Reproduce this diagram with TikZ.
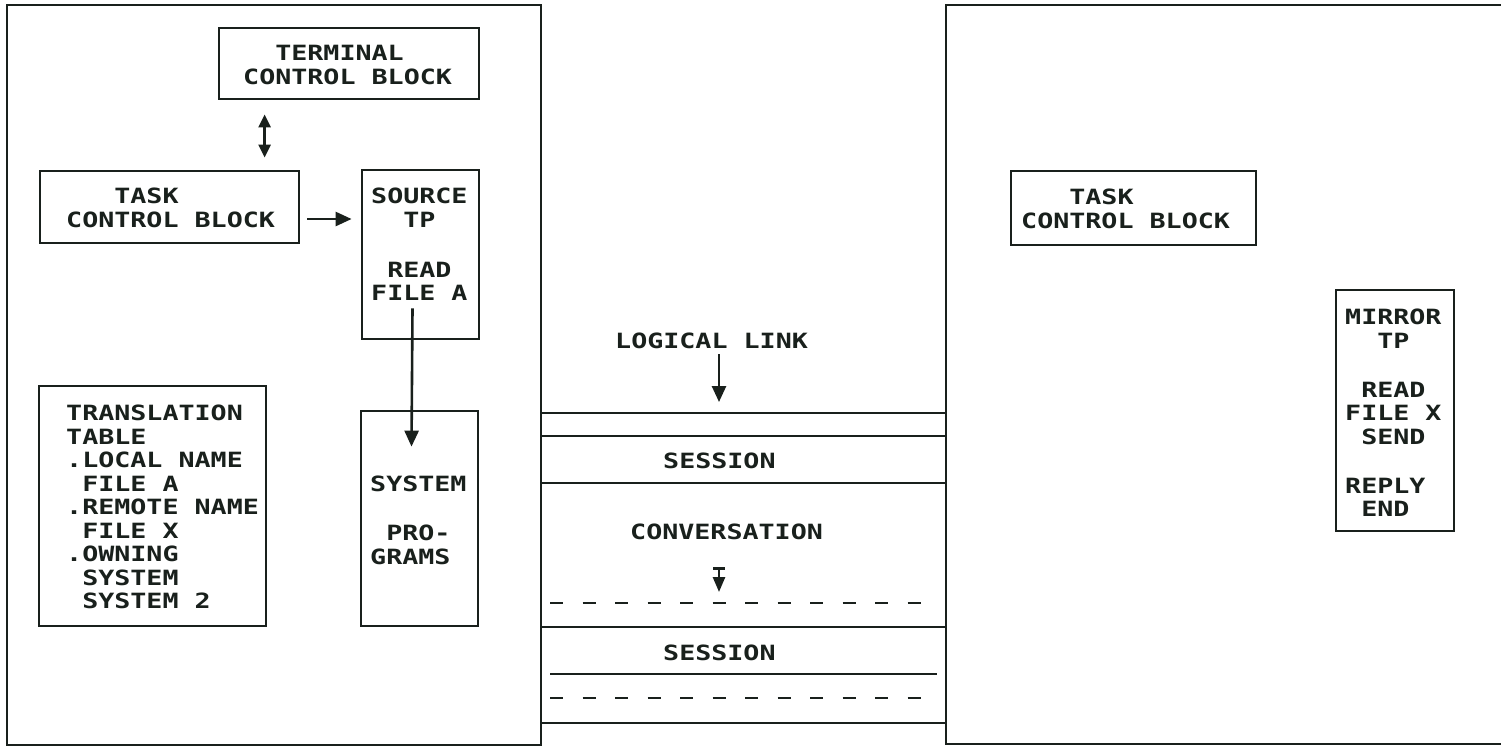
\documentclass[tikz,border=0pt]{standalone}
\usepackage{fontspec}
\newfontfamily\plotfont[FakeStretch=1.27]{DejaVu Sans Mono}
\usetikzlibrary{arrows.meta,calc}
\definecolor{ink}{RGB}{25,32,28}
\newcommand\chsp{\hphantom{X}}
\begin{document}
\begin{tikzpicture}[x=1pt,y=-1pt,
  blk/.style={draw=ink,line width=2.8pt,inner sep=0pt,rectangle},
  frame/.style={draw=ink,line width=2.8pt},
  txt/.style={inner sep=0pt,anchor=north west,align=left,text=ink,
    font={\plotfont\bfseries\fontsize{21pt}{23.5pt}\selectfont}},
  hline/.style={draw=ink,line width=2.8pt},
  dline/.style={draw=ink,line width=2.8pt,dash pattern=on 13pt off 19.5pt},
  arr/.style={draw=ink,line width=2.6pt,-{Triangle[length=16pt,width=14pt]}},
  dbl/.style={draw=ink,line width=2.6pt,{Triangle[length=13pt,width=12pt]}-{Triangle[length=13pt,width=12pt]}},
  tarr/.style={draw=ink,line width=2.6pt,{Bar[width=12pt]}-{Triangle[length=15pt,width=12pt]}}
]
\useasboundingbox (0,0) rectangle (1501,748);
\fill[white] (0,0) rectangle (1501,748);

% left system frame
\node[frame,inner sep=0pt,minimum width=534pt,minimum height=740pt] (lsys) at (274,375) {};
% right system frame (open at right)
\draw[frame] (1506,5) -- (946,5) coordinate (rtop) -- (946,744) coordinate (rbot) -- (1506,744);

% left side boxes
\node[blk,minimum width=260pt,minimum height=71pt] (term) at (349,63.5) {};
\node[blk,minimum width=259pt,minimum height=72pt] (tcbl) at (169.5,207) {};
\node[blk,minimum width=117pt,minimum height=169pt] (src) at (420.5,254.5) {};
\node[blk,minimum width=117pt,minimum height=215pt] (sys) at (419.5,518.5) {};
\node[blk,minimum width=227pt,minimum height=240pt] (trans) at (152.5,506) {};

% right side boxes
\node[blk,minimum width=245pt,minimum height=74pt] (tcbr) at (1133.5,208) {};
\node[blk,minimum width=118pt,minimum height=241pt] (mir) at (1395,410.5) {};

% texts
\node[txt] (termT) at (243,45) {\chsp\chsp TERMINAL\\CONTROL BLOCK};
\node[txt] (tcblT) at (66,188) {\chsp\chsp\chsp TASK\\CONTROL BLOCK};
\node[txt] (tcbrT) at (1021,189) {\chsp\chsp\chsp TASK\\CONTROL BLOCK};
\node[txt] (srcT) at (371,188) {SOURCE\\\chsp\chsp TP\\[26.5pt]\chsp READ\\FILE A};
\node[txt] (sysT) at (370,476) {SYSTEM\\[25.5pt]\chsp PRO-\\GRAMS};
\node[txt] (transT) at (66,405) {TRANSLATION\\TABLE\\.LOCAL NAME\\\chsp FILE A\\.REMOTE NAME\\\chsp FILE X\\.OWNING\\\chsp SYSTEM\\\chsp SYSTEM 2};
\node[txt] (mirT) at (1345,309) {MIRROR\\\chsp\chsp TP\\[25.5pt]\chsp READ\\FILE X\\\chsp SEND\\[25.5pt]REPLY\\\chsp END};

% middle labels
\node[txt] (ll) at (615,333) {LOGICAL LINK};
\node[txt] (ses1) at (663,453) {SESSION};
\node[txt] (conv) at (630,524) {CONVERSATION};
\node[txt] (ses2) at (663,645) {SESSION};

% middle lines
\draw[hline] (lsys.east |- 0,413) -- (rtop |- 0,413);
\draw[hline] (lsys.east |- 0,436) -- (rtop |- 0,436);
\draw[hline] (lsys.east |- 0,483) -- (rtop |- 0,483);
\draw[dline] (550,603) -- (935,603);
\draw[hline] (lsys.east |- 0,627) -- (rtop |- 0,627);
\draw[hline] (550,674) -- (937,674);
\draw[dline] (550,698) -- (935,698);
\draw[hline] (lsys.east |- 0,723) -- (rtop |- 0,723);

% connectors
\draw[dbl] ($(term.south west)+(47,14)$) -- ($(tcbl.north west)+(226,-12)$);
\draw[arr] ($(tcbl.east)+(7,12)$) -- ($(tcbl.east -| src.west)+(-9,12)$);
\draw[arr] ($(src.south)+(-8,-32)$) -- ($(sys.north)+(-8,37)$);
\coordinate (llTip) at (719,402);
\draw[arr] ($(ll.south -| llTip)+(0,5)$) -- (llTip);
\coordinate (tA) at (719,567);
\coordinate (tB) at (719,592);
\draw[tarr] (tA) -- (tB);
\end{tikzpicture}
\end{document}
